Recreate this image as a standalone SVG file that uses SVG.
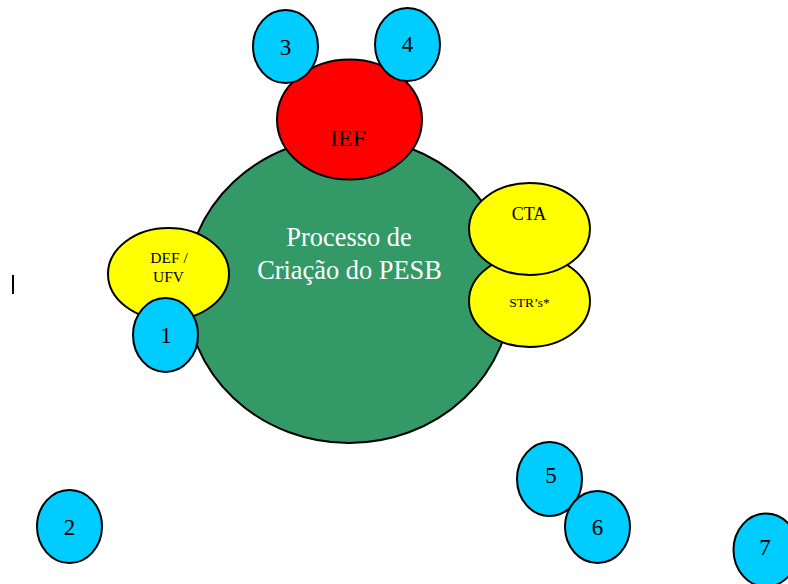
<svg xmlns="http://www.w3.org/2000/svg" width="788" height="584" viewBox="0 0 788 584">
<style>
.s{stroke:#000;stroke-width:2}
.g{fill:#339966}
.r{fill:#ff0000}
.y{fill:#ffff00}
.b{fill:#00ccff}
text{font-family:"Liberation Serif","Times New Roman",serif;text-anchor:middle;fill:#000}
.n{font-size:23px}
</style>
<rect width="788" height="584" fill="#fff"/>
<g id="connectors"/>
<g id="pesb"><ellipse class="s g" cx="349" cy="290" rx="163" ry="153"/>
<text x="349" y="246" style="font-size:26.4px;fill:#fff">Processo de</text>
<text x="349.5" y="279" style="font-size:26.4px;fill:#fff">Criação do PESB</text></g>
<g id="ief"><ellipse class="s r" cx="349.5" cy="119.5" rx="72.5" ry="60"/>
<text x="348" y="146" style="font-size:24px">IEF</text></g>
<g id="n3"><ellipse class="s b" cx="285.5" cy="46.5" rx="32.5" ry="36.5"/><text class="n" x="285.5" y="55">3</text></g>
<g id="n4"><ellipse class="s b" cx="407.5" cy="44.5" rx="32.5" ry="36.5"/><text class="n" x="407.5" y="52">4</text></g>
<g id="def"><ellipse class="s y" cx="168.5" cy="274" rx="60.5" ry="46"/>
<text x="169" y="263" style="font-size:15.5px">DEF /</text>
<text x="168.5" y="282" style="font-size:15.5px">UFV</text></g>
<g id="n1"><ellipse class="s b" cx="165.5" cy="335" rx="32.5" ry="37"/><text class="n" x="166" y="343">1</text></g>
<g id="str"><ellipse class="s y" cx="529.5" cy="301" rx="60.5" ry="46"/><text x="529.5" y="306.5" style="font-size:13.5px">STR’s*</text></g>
<g id="cta"><ellipse class="s y" cx="529.5" cy="229" rx="60.5" ry="46"/><text x="529" y="220" style="font-size:18px">CTA</text></g>
<g id="n2"><ellipse class="s b" cx="69.5" cy="526.5" rx="32.5" ry="36.5"/><text class="n" x="69.5" y="535">2</text></g>
<g id="n5"><ellipse class="s b" cx="549.5" cy="479" rx="32.5" ry="37"/><text class="n" x="551" y="483">5</text></g>
<g id="n6"><ellipse class="s b" cx="597.5" cy="527" rx="32.5" ry="36"/><text class="n" x="597.5" y="535">6</text></g>
<g id="n7"><ellipse class="s b" cx="766" cy="550" rx="32.5" ry="36.5"/><text class="n" x="765" y="555">7</text></g>
<g id="mark"><line x1="13" y1="275" x2="13" y2="294" stroke="#000" stroke-width="2"/></g>
</svg>
